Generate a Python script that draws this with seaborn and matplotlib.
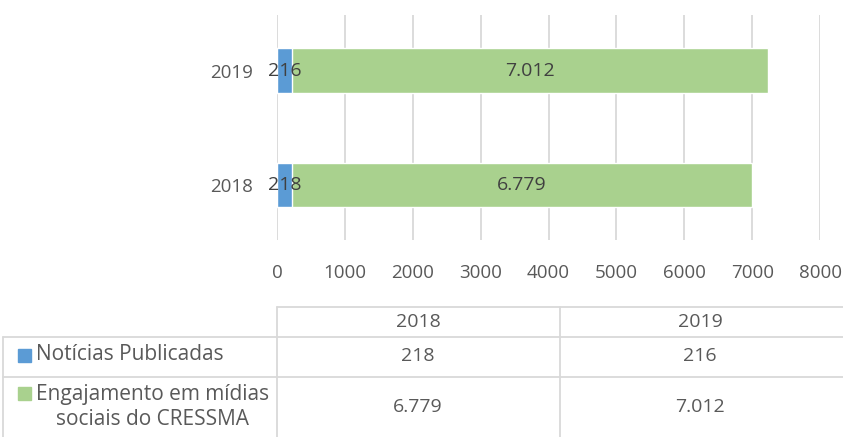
import pandas as pd
import seaborn as sns
import matplotlib.pyplot as plt
from matplotlib.lines import Line2D
from matplotlib.patches import Rectangle

# data
years = ['2018', '2019']
noticias = [218, 216]
engajamento = [6779, 7012]
series_names = ['Notícias Publicadas', 'Engajamento em mídias\nsociais do CRESSMA']
x_ticks = [0, 1000, 2000, 3000, 4000, 5000, 6000, 7000, 8000]

blue = '#5B9BD5'
green = '#A9D18E'
grid_c = '#D9D9D9'
text_c = '#595959'
label_c = '#404040'

def fmt(v):
    return f'{v:,.0f}'.replace(',', '.')

df = pd.DataFrame({'Ano': years, 'Noticias': noticias, 'Engajamento': engajamento})
df['Total'] = df['Noticias'] + df['Engajamento']
order = years[::-1]

sns.set_style('white')
plt.rcParams['font.family'] = ['Open Sans', 'DejaVu Sans']

fig = plt.figure(figsize=(8.43, 4.37), dpi=100)
ax = fig.add_axes([277 / 843, 1 - 240 / 437, (820 - 277) / 843, 225 / 437])

# stacked bars: total in green, blue segment drawn on top
sns.barplot(data=df, y='Ano', x='Total', order=order, color=green, width=0.39,
            saturation=1, ax=ax, orient='h')
sns.barplot(data=df, y='Ano', x='Noticias', order=order, color=blue, width=0.39,
            saturation=1, ax=ax, orient='h')

for _, r in df.iterrows():
    yi = order.index(r['Ano'])
    ax.text(r['Noticias'] / 2, yi, fmt(r['Noticias']), ha='center', va='center',
            fontsize=14, color=label_c)
    ax.text(r['Noticias'] + r['Engajamento'] / 2, yi, fmt(r['Engajamento']),
            ha='center', va='center', fontsize=14, color=label_c)

ax.set_xlim(0, 8000)
ax.set_ylim(1.48, -0.485)
ax.set_xticks(x_ticks)
ax.set_xticklabels([str(t) for t in x_ticks])
ax.xaxis.grid(True, color=grid_c, linewidth=1.3)
ax.set_axisbelow(True)
ax.set_xlabel('')
ax.set_ylabel('')
sns.despine(ax=ax, left=True, bottom=True)
ax.tick_params(axis='x', length=0, pad=17, labelsize=13.5, labelcolor=text_c)
ax.tick_params(axis='y', length=0, pad=17, labelsize=13.5, labelcolor=text_c)

# data table below the chart
W, H = 843, 437
def fx(p):
    return p / W
def fy(p):
    return 1 - p / H

def hline(y, x0, x1):
    fig.add_artist(Line2D([fx(x0), fx(x1)], [fy(y), fy(y)], color=grid_c, lw=1.3))
def vline(x, y0, y1):
    fig.add_artist(Line2D([fx(x), fx(x)], [fy(y0), fy(y1)], color=grid_c, lw=1.3))

hline(307, 277, 843)
hline(337, 3, 843)
hline(377, 3, 843)
vline(3, 337, 437)
vline(277, 307, 437)
vline(560, 307, 437)

col_x = [418, 700]
for i, yr in enumerate(years):
    fig.text(fx(col_x[i]), fy(322), yr, ha='center', va='center', fontsize=14, color=text_c)
    fig.text(fx(col_x[i]), fy(356), fmt(noticias[i]), ha='center', va='center',
             fontsize=14, color=text_c)
    fig.text(fx(col_x[i]), fy(407), fmt(engajamento[i]), ha='center', va='center',
             fontsize=14, color=text_c)

# row headers with legend keys
fig.add_artist(Rectangle((fx(17.5), fy(362)), 13 / W, 13 / H, color=blue))
fig.text(fx(36), fy(355), series_names[0], ha='left', va='center', fontsize=15, color=text_c)
fig.add_artist(Rectangle((fx(17.5), fy(400)), 13 / W, 13 / H, color=green))
fig.text(fx(36), fy(407), series_names[1], ha='left', va='center', fontsize=15,
         color=text_c, multialignment='center', linespacing=1.3)

fig.savefig('out.png', dpi=100)
